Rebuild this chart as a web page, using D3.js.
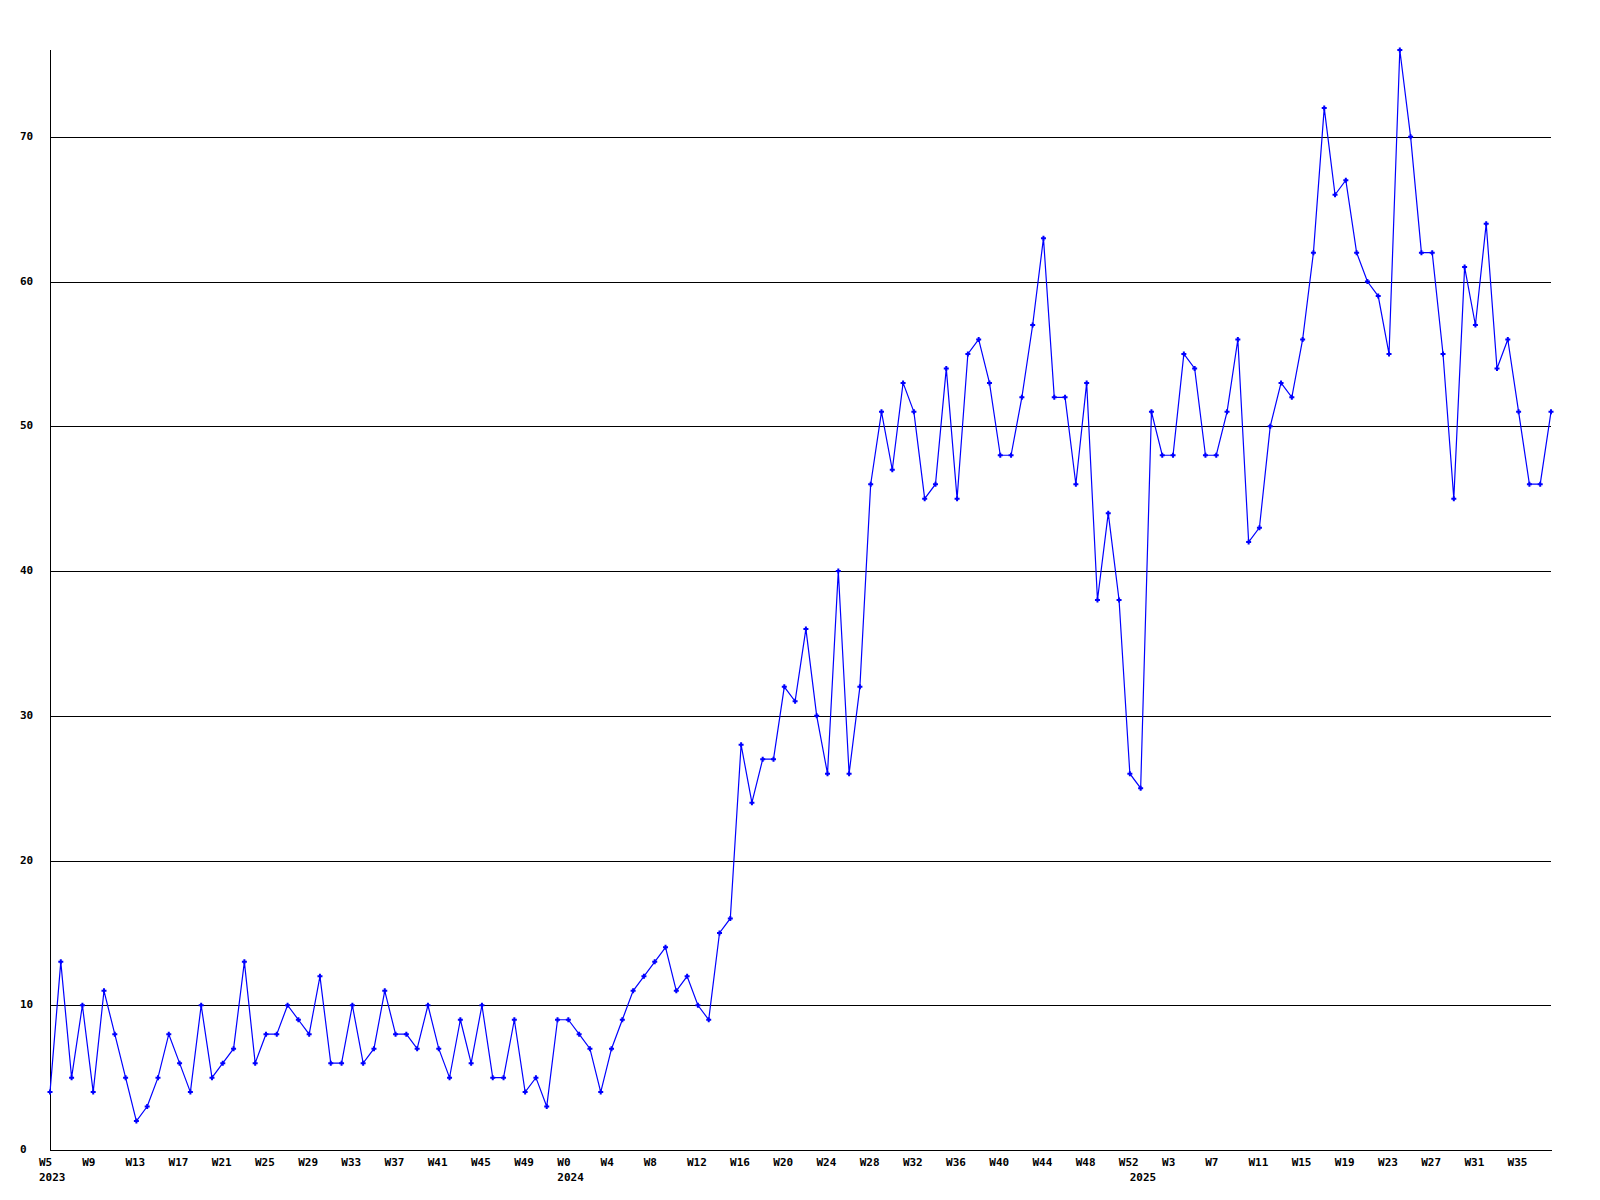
<!DOCTYPE html>
<html>
<head>
<meta charset="utf-8">
<script src="https://cdn.jsdelivr.net/npm/d3@7"></script>
<style>
    body { margin: 0; background: #fff; }
    text { font-family: "DejaVu Sans Mono", monospace; font-weight: bold; font-size: 11px; fill: #000; }
</style>
</head>
<body>
<div id="svg_container"></div>
<script>
// Weeks covered by the series (first and last week label of each year)
var weekRanges = [
    {year: 2023, from: 5, to: 52},
    {year: 2024, from: 0, to: 52},
    {year: 2025, from: 0, to: 38}
];

// Weekly counts, one value per week
var values2023 = [4, 13, 5, 10, 4, 11, 8, 5, 2, 3, 5, 8, 6, 4, 10, 5, 6, 7, 13, 6, 8, 8, 10, 9,
                  8, 12, 6, 6, 10, 6, 7, 11, 8, 8, 7, 10, 7, 5, 9, 6, 10, 5, 5, 9, 4, 5, 3, 9];
var values2024 = [9, 8, 7, 4, 7, 9, 11, 12, 13, 14, 11, 12, 10, 9, 15, 16, 28, 24, 27, 27, 32, 31, 36, 30,
                  26, 40, 26, 32, 46, 51, 47, 53, 51, 45, 46, 54, 45, 55, 56, 53, 48, 48, 52, 57, 63, 52,
                  52, 46, 53, 38, 44, 38, 26];
var values2025 = [25, 51, 48, 48, 55, 54, 48, 48, 51, 56, 42, 43, 50, 53, 52, 56, 62, 72, 66, 67, 62, 60,
                  59, 55, 76, 70, 62, 62, 55, 45, 61, 57, 64, 54, 56, 51, 46, 46, 51];

var yTicks = [0, 10, 20, 30, 40, 50, 60, 70];
var yMax = 76;
var labelEvery = 4;

// Build the category list
var data = [];
var allValues = values2023.concat(values2024, values2025);
weekRanges.forEach(function(r) {
    for (var w = r.from; w <= r.to; w++) {
        data.push({year: r.year, week: w, first: w === r.from});
    }
});
data.forEach(function(d, i) { d.index = i; d.value = allValues[i]; });

// Chart dimensions
var margin = {top: 50, right: 49, bottom: 50, left: 50};
var width = 1600 - margin.left - margin.right;
var height = 1200 - margin.top - margin.bottom;

var svg = d3.select("#svg_container")
    .append("svg")
    .attr("width", 1600)
    .attr("height", 1200);

var g = svg.append("g").attr("transform", "translate(" + margin.left + "," + margin.top + ")");

var x = d3.scaleLinear()
    .domain([0, data.length - 1])
    .range([0, width]);

var y = d3.scaleLinear()
    .domain([0, yMax])
    .range([height, 0]);

// Grid lines
g.selectAll(".grid")
    .data(yTicks.filter(function(t) { return t > 0; }))
    .enter()
    .append("line")
    .attr("x1", 0)
    .attr("x2", width)
    .attr("y1", function(d) { return Math.round(y(d)) + 0.5; })
    .attr("y2", function(d) { return Math.round(y(d)) + 0.5; })
    .attr("stroke", "#000")
    .attr("stroke-width", 1);

// Y axis labels
g.selectAll(".ylab")
    .data(yTicks)
    .enter()
    .append("text")
    .attr("x", -30)
    .attr("y", function(d) { return Math.round(y(d)) + 3; })
    .text(function(d) { return d; });

// X axis labels (week on first row, year on second)
var ticks = data.filter(function(d) { return d.index % labelEvery === 0; });
g.selectAll(".xlab")
    .data(ticks)
    .enter()
    .append("text")
    .attr("x", function(d) { return x(d.index) - 11; })
    .attr("y", height + 16)
    .text(function(d) { return "W" + d.week; });

g.selectAll(".yearlab")
    .data(data.filter(function(d) { return d.first; }))
    .enter()
    .append("text")
    .attr("x", function(d) { return x(d.index) - 11; })
    .attr("y", height + 31)
    .text(function(d) { return d.year; });

// Axes lines
g.append("line")
    .attr("x1", 0.5).attr("x2", 0.5)
    .attr("y1", 0).attr("y2", height)
    .attr("stroke", "#000");
g.append("line")
    .attr("x1", 0).attr("x2", width + 1)
    .attr("y1", height + 0.5).attr("y2", height + 0.5)
    .attr("stroke", "#000");

// Series line
var line = d3.line()
    .x(function(d) { return x(d.index); })
    .y(function(d) { return y(d.value); });

g.append("path")
    .datum(data)
    .attr("fill", "none")
    .attr("stroke", "#0000ff")
    .attr("stroke-width", 1.2)
    .attr("d", line);

// Small plus markers
g.selectAll(".mark")
    .data(data)
    .enter()
    .append("path")
    .attr("transform", function(d) { return "translate(" + x(d.index) + "," + y(d.value) + ")"; })
    .attr("d", "M-2.5,-1H-1V-2.5H1V-1H2.5V1H1V2.5H-1V1H-2.5Z")
    .attr("fill", "#0000ff");
</script>
</body>
</html>
